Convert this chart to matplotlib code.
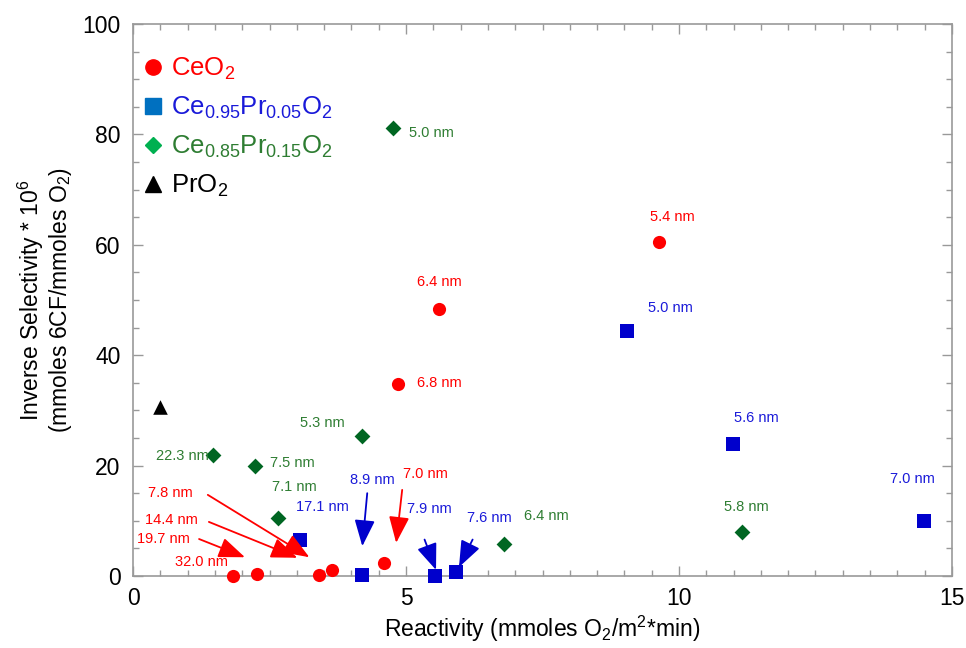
import matplotlib
matplotlib.use("Agg")
import matplotlib.pyplot as plt
from matplotlib.lines import Line2D
from matplotlib.ticker import MultipleLocator

plt.rcParams['font.family'] = ['Liberation Sans', 'DejaVu Sans']
plt.rcParams['mathtext.fontset'] = 'custom'
plt.rcParams['mathtext.rm'] = 'Liberation Sans'
plt.rcParams['mathtext.it'] = 'Liberation Sans'
plt.rcParams['mathtext.bf'] = 'Liberation Sans'

# ---- data ----
ceo2_x = [9.63, 5.61, 4.86, 4.60, 3.64, 3.40, 2.28, 1.83]
ceo2_y = [60.5, 48.4, 34.8, 2.4, 1.1, 0.2, 0.4, 0.0]
ceo2_lab = ["5.4 nm", "6.4 nm", "6.8 nm", "7.0 nm", "7.8 nm", "14.4 nm", "19.7 nm", "32.0 nm"]
ceo2_lab_xy = [(9.88, 65.0), (5.61, 53.3), (5.61, 35.0), (5.35, 18.5), (0.68, 15.0),
               (0.71, 10.1), (0.55, 6.7), (1.26, 2.5)]

pr05_x = [9.04, 10.98, 14.49, 3.05, 4.20, 5.54, 5.92]
pr05_y = [44.4, 23.9, 10.0, 6.5, 0.2, 0.0, 0.7]
pr05_lab = ["5.0 nm", "5.6 nm", "7.0 nm", "17.1 nm", "8.9 nm", "7.9 nm", "7.6 nm"]
pr05_lab_xy = [(9.85, 48.6), (11.42, 28.6), (14.27, 17.6), (3.47, 12.5), (4.39, 17.4),
               (5.43, 12.1), (6.52, 10.5)]

pr15_x = [4.77, 4.20, 1.46, 2.23, 2.65, 6.80, 11.16]
pr15_y = [81.2, 25.4, 21.9, 19.9, 10.5, 5.8, 8.0]
pr15_lab = ["5.0 nm", "5.3 nm", "22.3 nm", "7.5 nm", "7.1 nm", "6.4 nm", "5.8 nm"]
pr15_lab_xy = [(5.46, 80.3), (3.47, 27.7), (0.90, 21.7), (2.91, 20.5), (2.96, 16.1),
               (7.58, 10.9), (11.24, 12.5)]

pro2_x = [0.49]
pro2_y = [30.6]

# arrows: (x_from, y_from, x_to, y_to, color)
arrows = [
    (1.37, 14.7, 3.23, 3.4, 'red'),
    (1.39, 9.8, 3.01, 3.3, 'red'),
    (1.21, 6.7, 2.05, 3.4, 'red'),
    (4.93, 15.6, 4.82, 6.0, 'red'),
    (4.29, 15.0, 4.20, 5.4, 'blue'),
    (5.34, 6.6, 5.55, 1.1, 'blue'),
    (6.22, 6.6, 5.97, 1.6, 'blue'),
]

RED = '#FF0000'
BLUE = '#0000CC'
GREEN = '#006622'
GREEN_TXT = '#2E7D32'
BLUE_TXT = '#1A1AD9'

fig = plt.figure(figsize=(9.66, 6.48), dpi=100)
ax = fig.add_axes([133/966, 1 - 576/648, (952 - 133)/966, (576 - 24)/648])

ax.scatter(ceo2_x, ceo2_y, s=90, marker='o', color=RED, clip_on=False, zorder=3, linewidths=0)
ax.scatter(pr05_x, pr05_y, s=100, marker='s', color=BLUE, clip_on=False, zorder=3, linewidths=0)
ax.scatter(pr15_x, pr15_y, s=65, marker='D', color=GREEN, clip_on=False, zorder=3, linewidths=0)
ax.scatter(pro2_x, pro2_y, s=110, marker='^', color='black', clip_on=False, zorder=3, linewidths=0)

for lab, (tx, ty) in zip(ceo2_lab, ceo2_lab_xy):
    ax.text(tx, ty, lab, color=RED, fontsize=10.5, ha='center', va='center')
for lab, (tx, ty) in zip(pr05_lab, pr05_lab_xy):
    ax.text(tx, ty, lab, color=BLUE_TXT, fontsize=10.5, ha='center', va='center')
for lab, (tx, ty) in zip(pr15_lab, pr15_lab_xy):
    ax.text(tx, ty, lab, color=GREEN_TXT, fontsize=10.5, ha='center', va='center')

for x0, y0, x1, y1, c in arrows:
    col = RED if c == 'red' else BLUE
    ax.annotate('', xy=(x1, y1), xytext=(x0, y0),
                arrowprops=dict(arrowstyle='-|>,head_length=0.9,head_width=0.35',
                                color=col, lw=1.3, mutation_scale=18,
                                shrinkA=0, shrinkB=0))

ax.set_xlim(0, 15)
ax.set_ylim(0, 100)
ax.xaxis.set_major_locator(MultipleLocator(5))
ax.xaxis.set_minor_locator(MultipleLocator(0.5))
ax.yaxis.set_major_locator(MultipleLocator(20))
ax.yaxis.set_minor_locator(MultipleLocator(5))
ax.tick_params(which='both', direction='in', top=True, right=True, color='#999999',
               labelsize=16.5, labelcolor='black')
ax.tick_params(which='major', length=7, width=1)
ax.tick_params(which='minor', length=4, width=1)
ax.tick_params(axis='x', pad=8)
ax.tick_params(axis='y', pad=9)
for sp in ax.spines.values():
    sp.set_color('#999999')
    sp.set_linewidth(1.2)

ax.set_xlabel(r'Reactivity (mmoles O$_2$/m$^2$*min)', fontsize=16.5, labelpad=3)
ax.set_ylabel('Inverse Selectivity * 10$^6$\n(mmoles 6CF/mmoles O$_2$)', fontsize=16.5,
              labelpad=6, linespacing=1.05)

handles = [
    Line2D([], [], marker='o', color=RED, ls='none', markersize=11),
    Line2D([], [], marker='s', color='#0070C0', ls='none', markersize=11),
    Line2D([], [], marker='D', color='#00B050', ls='none', markersize=8),
    Line2D([], [], marker='^', color='black', ls='none', markersize=11),
]
labels = ['CeO$_2$', 'Ce$_{0.95}$Pr$_{0.05}$O$_2$', 'Ce$_{0.85}$Pr$_{0.15}$O$_2$', 'PrO$_2$']
leg = ax.legend(handles, labels, loc='upper left', bbox_to_anchor=(-0.008, 0.975),
                frameon=False, fontsize=18.5, handlelength=0.7, handletextpad=0.35,
                labelspacing=0.5, borderaxespad=0.3)
for t, c in zip(leg.get_texts(), [RED, BLUE_TXT, GREEN_TXT, 'black']):
    t.set_color(c)

fig.savefig('out.png', dpi=100)
